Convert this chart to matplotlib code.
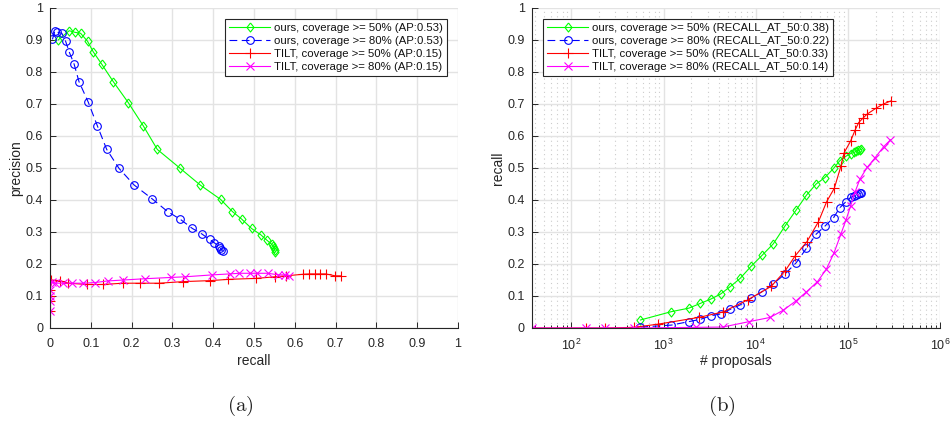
import matplotlib
matplotlib.use("Agg")
import matplotlib.pyplot as plt
from matplotlib.ticker import LogLocator, NullFormatter, FixedLocator

plt.rcParams['font.family'] = ['Liberation Sans', 'DejaVu Sans']
plt.rcParams['mathtext.fontset'] = 'cm'

# ---------------- precision / recall ----------------
ours50_recall = [0.020, 0.047, 0.061, 0.075, 0.092, 0.106, 0.127, 0.155, 0.192, 0.229,
                 0.263, 0.319, 0.368, 0.418, 0.447, 0.470, 0.494, 0.517, 0.531, 0.543,
                 0.547, 0.549, 0.551, 0.552]
ours50_prec = [0.900, 0.929, 0.924, 0.921, 0.896, 0.863, 0.824, 0.770, 0.704, 0.631,
               0.558, 0.499, 0.447, 0.402, 0.364, 0.340, 0.311, 0.291, 0.275, 0.262,
               0.256, 0.250, 0.244, 0.239]

ours80_recall = [0.006, 0.012, 0.018, 0.029, 0.038, 0.047, 0.059, 0.071, 0.094, 0.116,
                 0.139, 0.169, 0.206, 0.251, 0.288, 0.319, 0.349, 0.372, 0.391, 0.402,
                 0.413, 0.417, 0.420, 0.423]
ours80_prec = [0.902, 0.929, 0.924, 0.921, 0.897, 0.863, 0.825, 0.770, 0.705, 0.632,
               0.558, 0.499, 0.447, 0.403, 0.364, 0.340, 0.311, 0.294, 0.277, 0.267,
               0.256, 0.250, 0.245, 0.241]

tilt50_recall = [0.0, 0.0, 0.0, 0.0, 0.0025, 0.025, 0.045, 0.090, 0.131, 0.178, 0.220,
                 0.268, 0.327, 0.392, 0.437, 0.505, 0.551, 0.578, 0.621, 0.636, 0.649,
                 0.662, 0.676, 0.699, 0.713]
tilt50_prec = [0.052, 0.085, 0.100, 0.120, 0.150, 0.148, 0.140, 0.136, 0.136, 0.140, 0.140,
               0.140, 0.145, 0.148, 0.152, 0.155, 0.160, 0.163, 0.168, 0.169, 0.169,
               0.169, 0.169, 0.163, 0.163]

tilt80_recall = [0.0, 0.0, 0.0, 0.0, 0.004, 0.012, 0.031, 0.053, 0.082, 0.110, 0.141,
                 0.180, 0.233, 0.297, 0.331, 0.398, 0.440, 0.464, 0.489, 0.508, 0.534,
                 0.560, 0.576, 0.587]
tilt80_prec = [0.052, 0.085, 0.100, 0.120, 0.145, 0.140, 0.140, 0.140, 0.140, 0.142, 0.147,
               0.150, 0.154, 0.158, 0.160, 0.166, 0.169, 0.171, 0.171, 0.171, 0.171,
               0.166, 0.166, 0.164]

pr_labels = ["ours, coverage >= 50% (AP:0.53)",
             "ours, coverage >= 80% (AP:0.53)",
             "TILT, coverage >= 50% (AP:0.15)",
             "TILT, coverage >= 80% (AP:0.15)"]

# ---------------- recall / number of proposals ----------------
ours_proposals = [560, 1210, 1880, 2510, 3230, 4150, 5270, 6770, 8910, 11800, 15500,
                  20800, 27500, 35500, 45200, 56200, 70000, 81300, 95500, 107000,
                  117000, 123000, 129000, 135000, 140000]
ours50_rec = [0.025, 0.051, 0.062, 0.077, 0.090, 0.106, 0.129, 0.155, 0.193, 0.228, 0.263,
              0.319, 0.369, 0.415, 0.450, 0.470, 0.499, 0.522, 0.537, 0.545, 0.549,
              0.552, 0.555, 0.557, 0.558]
ours80_rec = [0.003, 0.009, 0.020, 0.027, 0.038, 0.044, 0.058, 0.072, 0.093, 0.114, 0.138,
              0.169, 0.204, 0.249, 0.293, 0.318, 0.345, 0.375, 0.395, 0.408, 0.413,
              0.416, 0.419, 0.421, 0.422]

tilt50_proposals = [37, 144, 229, 473, 870, 2400, 4400, 8200, 14700, 20800, 26700, 36000,
                    47900, 58900, 71300, 84100, 91200, 107000, 120000, 131000, 145000,
                    161000, 200000, 243000, 295000]
tilt50_rec = [0.0, 0.0, 0.0, 0.002, 0.012, 0.033, 0.050, 0.088, 0.130, 0.178, 0.225, 0.270,
              0.332, 0.395, 0.437, 0.506, 0.548, 0.584, 0.619, 0.642, 0.655, 0.668,
              0.686, 0.700, 0.710]

tilt80_proposals = [37, 144, 229, 473, 2240, 4400, 8500, 14300, 20000, 27400, 35500, 46800,
                    58200, 70800, 84100, 95500, 107000, 120000, 135000, 162000, 195000,
                    245000, 290000]
tilt80_rec = [0.0, 0.0, 0.0, 0.0, 0.002, 0.003, 0.020, 0.033, 0.056, 0.085, 0.113, 0.145,
              0.183, 0.235, 0.294, 0.338, 0.381, 0.426, 0.465, 0.502, 0.530, 0.567, 0.588]

rp_labels = ["ours, coverage >= 50% (RECALL_AT_50:0.38)",
             "ours, coverage >= 80% (RECALL_AT_50:0.22)",
             "TILT, coverage >= 50% (RECALL_AT_50:0.33)",
             "TILT, coverage >= 80% (RECALL_AT_50:0.14)"]

unit_ticks = [0, 0.1, 0.2, 0.3, 0.4, 0.5, 0.6, 0.7, 0.8, 0.9, 1]
unit_ticklabels = ["0", "0.1", "0.2", "0.3", "0.4", "0.5", "0.6", "0.7", "0.8", "0.9", "1"]

# ---------------- styling ----------------
GREEN, BLUE, RED, MAGENTA = "#00ff00", "#0000ff", "#ff0000", "#ff00ff"
TXT = "#262626"
GRID = "#e3e3e3"
FS_LEG = 8.2
FS_TICK = 9
FS_LABEL = 10
LW = 0.8
# slightly elongated diamond
DIAMOND = [(0, 1), (0.78, 0), (0, -1), (-0.78, 0), (0, 1)]

fig = plt.figure(figsize=(9.51, 4.23), dpi=100)
ax1 = fig.add_axes([0.05258, 0.22459, 0.42902, 0.75650])
ax2 = fig.add_axes([0.55910, 0.22459, 0.42934, 0.75650])

style = dict(lw=LW, markerfacecolor="none", markeredgewidth=LW)


def draw(ax, xs, ys, labels):
    ax.plot(xs[0], ys[0], color=GREEN, marker=DIAMOND, ms=6.5, label=labels[0], **style)
    ax.plot(xs[1], ys[1], color=BLUE, marker="o", ms=5.5, ls=(0, (7, 4)),
            label=labels[1], **style)
    ax.plot(xs[2], ys[2], color=RED, marker="+", ms=7, label=labels[2], **style)
    ax.plot(xs[3], ys[3], color=MAGENTA, marker="x", ms=5.5, label=labels[3], **style)


def decorate(ax):
    for side in ("top", "right"):
        ax.spines[side].set_visible(False)
    for side in ("left", "bottom"):
        ax.spines[side].set_color(TXT)
        ax.spines[side].set_linewidth(0.8)
    ax.set_axisbelow(True)
    ax.grid(True, which="major", color=GRID, lw=1.0)
    ax.tick_params(which="both", direction="in", colors=TXT, labelsize=FS_TICK,
                   labelcolor=TXT, width=0.7)
    ax.tick_params(which="major", length=4, pad=7)
    ax.tick_params(axis="y", which="major", pad=5)
    ax.tick_params(which="minor", length=2.5)
    ax.set_ylim(0, 1)
    ax.yaxis.set_major_locator(FixedLocator(unit_ticks))
    ax.set_yticklabels(unit_ticklabels)


def legend(ax, loc, anchor):
    leg = ax.legend(loc=loc, bbox_to_anchor=anchor, fontsize=FS_LEG, fancybox=False,
                    framealpha=1, edgecolor=TXT, handlelength=3.6, handletextpad=0.3,
                    labelspacing=0.28, borderpad=0.35, borderaxespad=0)
    leg.get_frame().set_linewidth(0.8)
    for t in leg.get_texts():
        t.set_color("#111111")


# (a) precision vs recall
draw(ax1, [ours50_recall, ours80_recall, tilt50_recall, tilt80_recall],
     [ours50_prec, ours80_prec, tilt50_prec, tilt80_prec], pr_labels)
decorate(ax1)
ax1.set_xlim(0, 1)
ax1.xaxis.set_major_locator(FixedLocator(unit_ticks))
ax1.set_xticklabels(unit_ticklabels)
ax1.set_xlabel("recall", fontsize=FS_LABEL, color=TXT, labelpad=3)
ax1.set_ylabel("precision", fontsize=FS_LABEL, color=TXT, labelpad=2)
legend(ax1, "upper right", (0.972, 0.966))

# (b) recall vs number of proposals
draw(ax2, [ours_proposals, ours_proposals, tilt50_proposals, tilt80_proposals],
     [ours50_rec, ours80_rec, tilt50_rec, tilt80_rec], rp_labels)
ax2.set_xscale("log")
decorate(ax2)
ax2.set_xlim(37, 1e6)
ax2.xaxis.set_major_locator(FixedLocator([1e2, 1e3, 1e4, 1e5, 1e6]))
ax2.xaxis.set_minor_locator(LogLocator(base=10, subs=range(2, 10), numticks=20))
ax2.xaxis.set_minor_formatter(NullFormatter())
ax2.grid(True, which="minor", axis="x", color="#cccccc", lw=0.8, ls=(0, (1, 3)))
ax2.set_xlabel("# proposals", fontsize=FS_LABEL, color=TXT, labelpad=1)
ax2.set_ylabel("recall", fontsize=FS_LABEL, color=TXT, labelpad=2)
legend(ax2, "upper left", (0.028, 0.966))

fig.text(0.2524, 0.040, r"$\mathrm{(a)}$", ha="center", va="center", fontsize=15, color="#222222")
fig.text(0.7588, 0.040, r"$\mathrm{(b)}$", ha="center", va="center", fontsize=15, color="#222222")

fig.savefig("out.png", dpi=100)
